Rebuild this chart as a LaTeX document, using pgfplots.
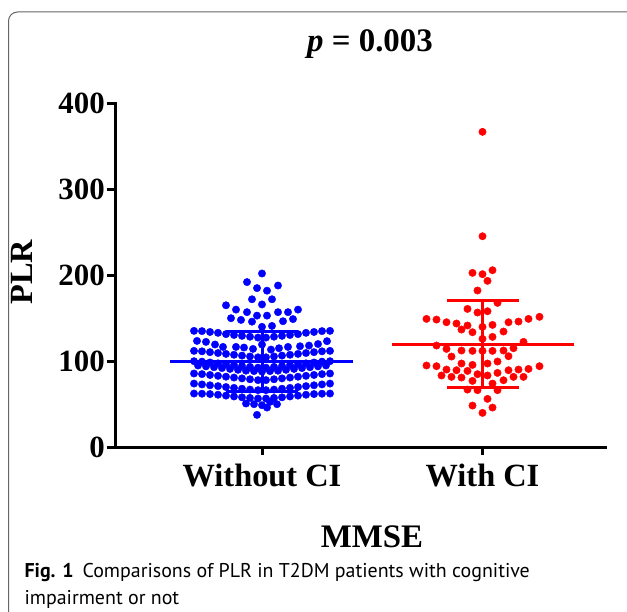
\documentclass[border=0pt]{standalone}
\usepackage{fontspec}
\setmainfont{Liberation Serif}
\newfontfamily\capfont{PT Sans}
\usepackage{pgfplots}
\pgfplotsset{compat=1.18}
\usepackage{pgfplotstable}

% dx = horizontal offset (px) from the group centre, v = PLR
\pgfplotstableread{
dx v
0 202
-15 192
-5 185
5 182
16 188
-10 172
0 166
10 172
-36 165
-26 160
-15 157
-5 153
5 153
16 157
26 157
36 160
-31 150
-21 148
-10 146
0 140
10 141
21 146.5
31 149
-68 135.3
-60 135
-52 134
-44 133
-36 131.5
-28 130.5
-20 129.5
-12 128.5
-4 127.5
4 127.5
12 128.5
20 129.5
28 130.5
36 131.5
44 133
52 134
60 135
68 135.3
-65 123.6
-56 122.5
-47 119.4
-39 116.6
-26 116.6
-18 115.9
-9 114.3
0 119.4
9 113.5
17 115.1
26 116.6
38 117.4
47 118.2
56 120
65 123.3
-68 112
-60 111.5
-52 110.5
-44 109.5
-36 108.5
-28 107.5
-20 106.5
-12 105.5
-4 104.5
4 104.5
12 105.5
20 106.5
28 107.5
36 108.5
44 109.5
52 110.5
60 111.5
68 112
-68 100
-60 99.5
-52 98.5
-44 97.5
-36 96.5
-28 95.5
-20 94.5
-12 93.5
-4 92.5
4 92.5
12 93.5
20 94.5
28 95.5
36 96.5
44 97.5
52 98.5
60 99.5
68 100
-64 95
-56 94
-48 93
-40 92
-32 91
-24 90
-16 89
-8 88.5
0 88
8 88.5
16 89
24 90
32 91
40 92
48 93
56 94
64 95
-68 85.7
-60 85
-52 84
-44 83
-36 82
-28 81
-20 80
-12 79
-4 78
4 78
12 79
20 80
28 81
36 82
44 83
52 84
60 85
68 85.7
-68 74
-60 73
-52 72
-44 71
-36 70
-28 69
-20 68
-12 67
-4 66.3
4 66.3
12 67
20 68
28 69
36 70
44 71
52 72
60 73
68 74
-68 62.4
-60 62.2
-52 61.8
-44 61
-36 60
-28 59
-20 58
-12 57.3
-4 56.6
4 56.6
12 57.3
20 58
28 59
36 60
44 61
52 61.8
60 62.2
68 62.4
-16 50.8
-8 50
0 48.8
8 52.7
15 50
5 46.1
-5 37.6
}\withoutci

\pgfplotstableread{
dx v
0 366.7
0 245.3
-10 202.7
0 201.2
10 205.8
5 193.4
-5 182.2
15 167.8
-15 160.8
-5 156.6
5 158.1
-56 149.2
-46 148.4
-36 145.3
-26 143.8
-15 141.5
-21 136.8
-10 133.7
0 139.9
10 142.2
21 134.5
26 145.3
36 146.1
46 149.2
57 151.6
0 126
10 128.3
41 122.5
-46 118.2
-36 114.3
-21 112.4
-10 112
0 112
10 112
21 112.4
31 115.1
26 105.8
-31 105.4
-21 97.3
-10 95.7
5 97.3
15 99.6
-56 95
-46 94.2
-36 90.3
-26 89.5
-15 88.7
26 89.5
36 90.3
46 91
57 94.2
15 86.4
-41 83.4
-31 81.8
-21 81
-5 84.9
5 83.4
31 81.8
41 81.8
21 77.9
-10 77.1
10 74
-15 67
-5 66.3
15 66.3
5 56.2
-10 48.4
10 46.1
0 39.9
}\withci

\begin{document}
\begin{tikzpicture}[x=1bp,y=1bp]
\useasboundingbox (0,0) rectangle (627,-612);
\clip (0,0) rectangle (627,-612);
\draw[black!60, line width=1bp, rounded corners=9bp] (8.5,-640) -- (8.5,-12) -- (660,-12);

\begin{axis}[
  at={(115,-520)}, anchor=south west,
  scale only axis, width=490bp, height=344bp,
  xmin=115, xmax=605, ymin=0, ymax=400,
  clip=false,
  axis x line*=bottom, axis y line*=left,
  axis line style={line width=3bp, line cap=rect},
  tick align=outside, major tick length=8bp,
  tick style={line width=3bp, black},
  xtick={262,482.5}, xticklabels={Without CI, With CI},
  ytick={0,100,200,300,400},
  /pgf/number format/assume math mode=true,
  yticklabel style={font=\fontsize{31}{31}\selectfont\bfseries, inner sep=2bp},
  xticklabel style={font=\fontsize{32.5}{32.5}\selectfont\bfseries, inner sep=2bp, yshift=-7bp},
  title={\textbf{\textit{p} = 0.003}},
  title style={at={(axis description cs:0.5204,1.133)}, anchor=base,
    font=\fontsize{33}{33}\selectfont},
  xlabel={\textbf{MMSE}},
  xlabel style={at={(axis description cs:0.5245,-0.2907)}, anchor=base,
    font=\fontsize{33}{33}\selectfont},
  ylabel={\textbf{PLR}},
  ylabel style={at={(axis description cs:-0.1898,0.509)}, anchor=center,
    font=\fontsize{32.5}{32.5}\selectfont},
]
\addplot[only marks, mark=*, mark size=3.7bp, draw=blue, fill=blue]
  table[x expr=262+\thisrow{dx}, y=v]{\withoutci};
\addplot[only marks, mark=*, mark size=3.7bp, draw=red, fill=red]
  table[x expr=482.5+\thisrow{dx}, y=v]{\withci};

% mean and SD bars
\addplot[blue, line width=3bp] coordinates {(170,99.2) (353,99.2)};
\addplot[blue, line width=3bp] coordinates {(262,64.4) (262,134)};
\addplot[blue, line width=3bp] coordinates {(226,134) (298,134)};
\addplot[blue, line width=3bp] coordinates {(226,64.4) (298,64.4)};
\addplot[red, line width=3bp] coordinates {(391.5,119.4) (574,119.4)};
\addplot[red, line width=3bp] coordinates {(482.5,69) (482.5,170.5)};
\addplot[red, line width=3bp] coordinates {(446.5,170.5) (518.5,170.5)};
\addplot[red, line width=3bp] coordinates {(446.5,69) (518.5,69)};
\end{axis}

\node[anchor=base west, font=\capfont\fontsize{20}{20}\selectfont] at (21,-577)
  {\textbf{Fig. 1}\hspace{0.45em}Comparisons of PLR in T2DM patients with cognitive};
\node[anchor=base west, font=\capfont\fontsize{20}{20}\selectfont] at (21,-604)
  {impairment or not};
\end{tikzpicture}
\end{document}
